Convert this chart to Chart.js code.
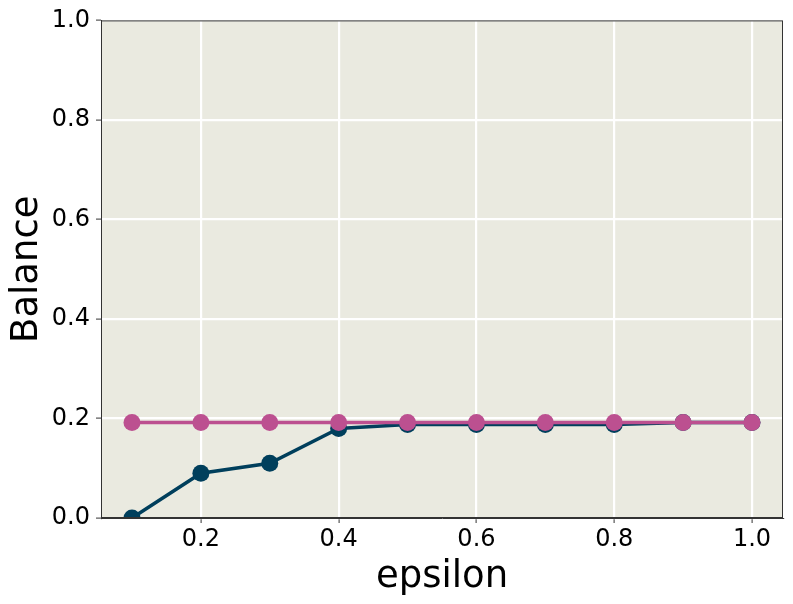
<!DOCTYPE html>
<html><head><meta charset="utf-8">
<script src="https://cdn.jsdelivr.net/npm/chart.js@4/dist/chart.umd.min.js"></script>
<style>html,body{margin:0;padding:0;background:#fff}#wrap{width:793px;height:604px}</style>
</head><body><div id="wrap"><canvas id="c" width="793" height="604"></canvas></div>
<script>
const epsilon = [0.1,0.2,0.3,0.4,0.5,0.6,0.7,0.8,0.9,1.0];
const balanceDark = [0.0,0.09,0.11,0.18,0.188,0.188,0.188,0.188,0.192,0.192];
const balancePink = [0.192,0.192,0.192,0.192,0.192,0.192,0.192,0.192,0.192,0.192];
const xTicks = [0.2,0.4,0.6,0.8,1.0];
const yTicks = [0.0,0.2,0.4,0.6,0.8,1.0];

const bgPlugin = {id:'bg',beforeDraw(ch){const a=ch.chartArea,c=ch.ctx;c.save();c.fillStyle='#EAEAE0';c.fillRect(a.left,a.top,a.right-a.left,a.bottom-a.top);c.restore();}};
const FONT = "'DejaVu Sans', sans-serif";
new Chart(document.getElementById('c'),{
  type:'line',
  data:{datasets:[
    {data:epsilon.map((x,i)=>({x,y:balancePink[i]})),borderColor:'#BC5090',backgroundColor:'#BC5090',borderWidth:3.5,pointRadius:8.5,pointHoverRadius:8.5,pointBorderWidth:0,order:0},
    {data:epsilon.map((x,i)=>({x,y:balanceDark[i]})),borderColor:'#003F5C',backgroundColor:'#003F5C',borderWidth:3.5,pointRadius:8.5,pointHoverRadius:8.5,pointBorderWidth:0,order:1}
  ]},
  options:{
    responsive:false,animation:false,
    layout:{padding:{top:18,right:10,left:0,bottom:0}},
    plugins:{legend:{display:false},tooltip:{enabled:false}},
    scales:{
      x:{type:'linear',min:0.055,max:1.045,
        afterBuildTicks(s){s.ticks=xTicks.map(v=>({value:v}));},
        afterFit(s){s.height=86;},
        ticks:{color:'#000',font:{family:FONT,size:24},padding:2,maxRotation:0,callback:v=>v.toFixed(1)},
        grid:{color:'#ffffff',lineWidth:2.2,tickLength:5,tickColor:'#333',tickWidth:1},
        border:{color:'#333',width:1},
        title:{display:true,text:'epsilon',color:'#000',font:{family:FONT,size:37},padding:{top:0}}
      },
      y:{min:0,max:1,
        afterBuildTicks(s){s.ticks=yTicks.map(v=>({value:v}));},
        afterFit(s){s.width=101;},
        ticks:{color:'#000',font:{family:FONT,size:24},padding:6,callback:v=>v.toFixed(1)},
        grid:{color:'#ffffff',lineWidth:2.2,tickLength:5,tickColor:'#333',tickWidth:1},
        border:{color:'#333',width:1},
        title:{display:true,text:'Balance',color:'#000',font:{family:FONT,size:37},padding:{top:5,bottom:0}}
      }
    }
  },
  plugins:[bgPlugin,{id:'frame',afterDraw(ch){const a=ch.chartArea,c=ch.ctx;c.save();c.strokeStyle='#333';c.lineWidth=1;c.strokeRect(a.left+0.5,a.top+0.5,a.right-a.left-1,a.bottom-a.top-1);c.restore();}}]
});
</script></body></html>
